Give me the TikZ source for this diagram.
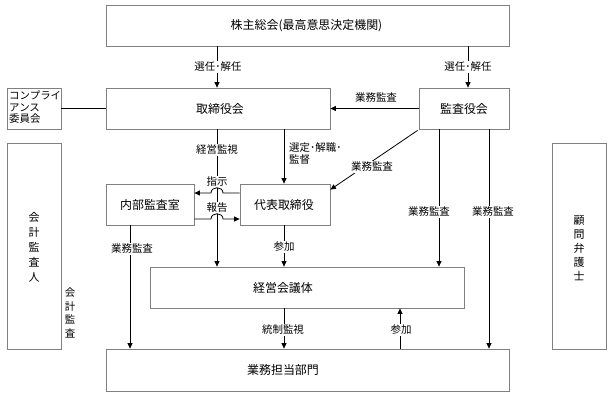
\documentclass[tikz,border=0pt]{standalone}
\usepackage{fontspec}
\setmainfont{Noto Sans CJK JP}
\usetikzlibrary{arrows.meta}
\begin{document}
\begin{tikzpicture}[x=1bp,y=-1bp,
 box/.style={draw=black!50, line width=0.8bp, inner sep=0pt},
 lab/.style={font=\fontsize{10.5}{12}\selectfont, fill=white, inner sep=0.8bp},
 plain/.style={font=\fontsize{10.5}{12}\selectfont, inner sep=0pt},
 main/.style={font=\fontsize{12}{14}\selectfont, inner sep=0pt},
 con/.style={line width=0.8bp, draw=black},
 arr/.style={con, -{Triangle[length=5.5bp,width=5bp]}},
]
\fill[white] (0,0) rectangle (613,402);
\useasboundingbox (0,0) rectangle (613,402);

% boxes
\node[box, minimum width=403bp, minimum height=41bp] (top) at (307.5,25.5) {};
\node[box, minimum width=224bp, minimum height=41bp] (tori) at (218,108.5) {};
\node[box, minimum width=90bp, minimum height=41bp] (kansa) at (464,108.5) {};
\node[box, minimum width=54bp, minimum height=41bp] (comp) at (34,108.5) {};
\node[box, minimum width=54bp, minimum height=206bp] (kaikei) at (34,246) {};
\node[box, minimum width=54bp, minimum height=206bp] (komon) at (579,246) {};
\node[box, minimum width=88bp, minimum height=41bp] (naibu) at (150,204.5) {};
\node[box, minimum width=90bp, minimum height=41bp] (daihyo) at (285,204.5) {};
\node[box, minimum width=314bp, minimum height=41bp] (keiei) at (307,287.5) {};
\node[box, minimum width=403bp, minimum height=42bp] (gyomu) at (307.5,370) {};

% box texts
\node[main] (tTop) at (306.5,25.5) {株主総会(最高意思決定機関)};
\node[main] (tTori) at (220,108.5) {取締役会};
\node[main] (tKansa) at (464,108.5) {監査役会};
\node[main] (tNaibu) at (150,204.5) {内部監査室};
\node[main] (tDaihyo) at (284,204.5) {代表取締役};
\node[main] (tKeiei) at (283,287.5) {経営会議体};
\node[main] (tGyomu) at (283,370) {業務担当部門};
\node[plain, anchor=north west, align=left, font=\fontsize{10.5}{11.5}\selectfont] (tComp) at (9,91) {コンプライ\\アンス\\委員会};
\node[plain, align=center, font=\fontsize{11}{15}\selectfont] (tKaikei) at (34,247) {会\\計\\監\\査\\人};
\node[plain, align=center, font=\fontsize{11}{14}\selectfont] (tKomon) at (579,248) {顧\\問\\弁\\護\\士};
\node[plain, align=center, font=\fontsize{10.5}{13.5}\selectfont] (tKaikeiK) at (70,313) {会\\計\\監\\査};

% x coordinates of vertical connectors
\coordinate (c130) at (130,0);
\coordinate (c217) at (217,0);
\coordinate (c284) at (284,0);
\coordinate (c400) at (400,0);
\coordinate (c439) at (439,0);
\coordinate (c468) at (468,0);
\coordinate (c489) at (489,0);
\coordinate (y193) at (0,193);
\coordinate (y219) at (0,219);

% connectors
\draw[arr] (top.south -| c217) -- (tori.north -| c217);
\draw[arr] (top.south -| c468) -- (kansa.north -| c468);
\draw[con] (comp.east) -- (tori.west);
\draw[arr] (kansa.west) -- (tori.east);
\draw[arr] (tori.south -| c217) -- (keiei.north -| c217);
\draw[arr] (tori.south -| c284) -- (daihyo.north -| c284);
\draw[arr] (kansa.south west) ++(-1,1) -- ([yshift=-6bp]daihyo.north east);
\draw[arr] (kansa.south -| c439) -- (keiei.north -| c439);
\draw[arr] (kansa.south -| c489) -- (gyomu.north -| c489);
\draw[arr] (naibu.south -| c130) -- (gyomu.north -| c130);
\draw[arr] (daihyo.south -| c284) -- (keiei.north -| c284);
\draw[arr] (keiei.south -| c284) -- (gyomu.north -| c284);
\draw[arr] (gyomu.north -| c400) -- (keiei.south -| c400);

% labels
\node[lab] (l1) at (218,67) {選任･解任};
\node[lab] (l2) at (468,67) {選任･解任};
\node[plain] (l3) at (376,98) {業務監査};
\node[lab] (l4) at (217,150) {経営監視};
\node[plain, anchor=north west, align=left, font=\fontsize{10.5}{13}\selectfont] (l5) at (289,142) {選定･解職･\\監督};
\node[lab] (l6) at (372,167) {業務監査};
\node[lab] (l7) at (217,182) {指示};
\node[lab] (l8) at (217,208) {報告};
\node[lab] (l9) at (132,249) {業務監査};
\node[lab] (l10) at (284,247) {参加};
\node[lab] (l11) at (429,212) {業務監査};
\node[lab] (l12) at (493,212) {業務監査};
\node[lab] (l13) at (283,330) {統制監視};
\node[lab] (l14) at (401,330) {参加};

% hop arrows
\draw[arr] (daihyo.west |- y193) -- (223,193) .. controls (223,186) and (211,186) .. (211,193) -- (naibu.east |- y193);
\draw[arr] (naibu.east |- y219) -- (211,219) .. controls (211,212) and (223,212) .. (223,219) -- (daihyo.west |- y219);
\end{tikzpicture}
\end{document}
